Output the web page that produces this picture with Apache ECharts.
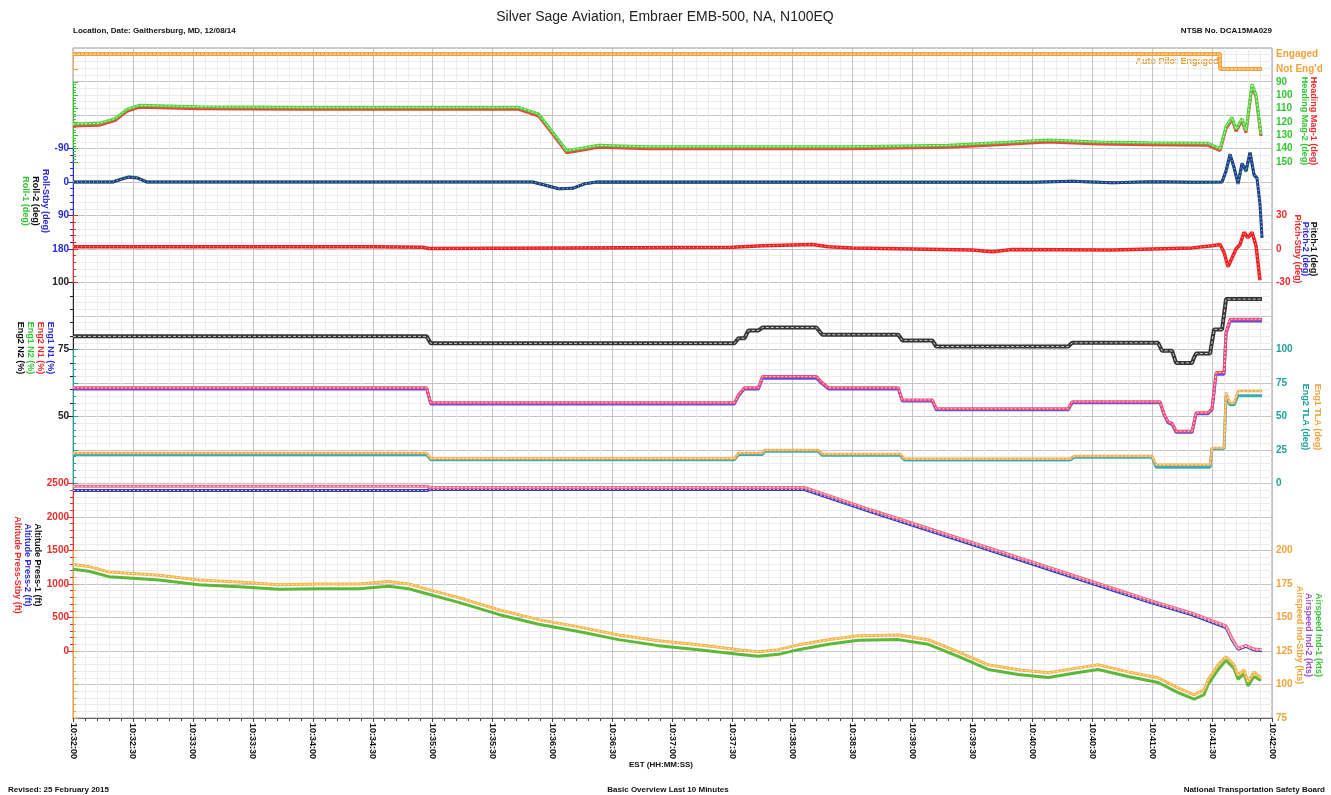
<!DOCTYPE html>
<html lang="en">
<head>
<meta charset="UTF-8">
<title>Silver Sage Aviation, Embraer EMB-500, N100EQ</title>
<style>
  html, body { margin: 0; padding: 0; background: #fff; }
  #chart { width: 1331px; height: 795px; }
</style>
</head>
<body>
<div id="chart"></div>
<script src="https://cdn.jsdelivr.net/npm/echarts@6/dist/echarts.min.js"></script>
<script>
// x values are seconds after 10:32:00
const timeLabels = ['10:32:00', '10:32:30', '10:33:00', '10:33:30', '10:34:00', '10:34:30', '10:35:00',
  '10:35:30', '10:36:00', '10:36:30', '10:37:00', '10:37:30', '10:38:00', '10:38:30', '10:39:00',
  '10:39:30', '10:40:00', '10:40:30', '10:41:00', '10:41:30', '10:42:00']

const autoPilot = [[0, 1], [574, 1], [574, 0], [595, 0]]

const headingMag1 = [[0, 123], [13, 122.5], [21, 119], [27, 112], [33, 109], [63, 110], [113, 110.5], [163, 110.5],
  [223, 110.5], [233, 115.5], [241, 131], [247, 143], [253, 141.5], [263, 139], [288, 140], [338, 140], [388, 140],
  [438, 139], [463, 137], [488, 135], [513, 136.5], [538, 137], [568, 137.5], [574, 141.5], [577, 125], [580, 118],
  [582, 127], [585, 119], [587, 128], [590, 93], [592, 101], [594.5, 130.5]]
const headingMag2 = [[0, 121.5], [13, 121], [21, 117.5], [27, 110.5], [33, 107.5], [63, 108.5], [113, 109], [163, 109],
  [223, 109], [233, 114], [241, 129.5], [247, 141.5], [253, 140], [263, 137.5], [288, 138.5], [338, 138.5], [388, 138.5],
  [438, 137.5], [463, 135.5], [488, 133.5], [513, 135], [538, 135.5], [568, 136], [574, 140], [577, 123.5], [580, 116.5],
  [582, 125.5], [585, 117.5], [587, 126.5], [590, 91.5], [592, 99.5], [594.5, 129]]

const roll1 = [[0, 0], [20, 0], [24, -8], [28, -14], [32, -12], [37, 0], [230, 0], [236, 8], [243, 18], [250, 17],
  [256, 5], [262, 0], [480, 1], [500, -2], [520, 2], [540, -1], [560, 1], [575, 0], [577, -28], [579, -72], [581, -38],
  [583, 4], [585, -48], [587, -28], [589, -78], [591, -18], [593, -8]]
const rollStby = [[0, 0], [20, 0], [24, -7], [28, -13], [32, -11], [37, 0], [230, 0], [236, 8], [243, 18], [250, 17],
  [256, 5], [262, 0], [480, 1], [500, -2], [520, 2], [540, -1], [560, 1], [575, 0], [577, -30], [579, -75], [581, -40],
  [583, 5], [585, -50], [587, -30], [589, -80], [591, -20], [592.5, -10], [594, 60], [595, 150]]

const pitchStby = [[0, 2], [150, 2], [175, 1.5], [178, 0.5], [250, 1], [330, 1.5], [345, 3], [370, 4], [378, 2],
  [390, 1], [420, 0], [450, -1], [460, -2.5], [470, -0.5], [520, -1], [540, 0], [560, 1], [570, 3], [574, 4],
  [576, -3], [578, -16], [580, -8], [582, 0], [584, 4], [586, 15], [588, 10], [590, 15], [592, 3], [594, -28]]

const eng2N2 = [[0, 79.9], [177, 79.9], [179, 77.3], [331, 77.3], [333, 79.2], [336, 79.2], [338, 82.1], [343, 82.1],
  [345, 83.2], [372, 83.2], [375, 80.5], [413, 80.5], [415, 78.4], [430, 78.4], [432, 76.1], [498, 76.1], [500, 77.5],
  [543, 77.5], [545, 74.5], [550, 74.5], [552, 70], [560, 70], [561, 72], [562, 73.5], [569, 73.5], [571, 82.5],
  [575, 82.5], [577, 93.8], [595, 93.8]]
const eng2N1 = [[0, 60.7], [177, 60.7], [179, 55.1], [331, 55.1], [333, 58], [336, 60.7], [343, 60.7], [345, 64.9],
  [372, 64.9], [375, 62.6], [378, 60.7], [413, 60.7], [415, 56.2], [430, 56.2], [432, 52.9], [498, 52.9], [500, 55.5],
  [544, 55.5], [546, 51], [548, 48], [550, 47.5], [552, 44.5], [560, 44.5], [562, 51.4], [568, 51.4], [570, 53],
  [572, 66.4], [576, 66.4], [577, 81.5], [579, 86.3], [595, 86.3]]
const eng1N1 = [[0, 60.3], [177, 60.3], [179, 54.7], [331, 54.7], [333, 57.6], [336, 60.3], [343, 60.3], [345, 64.3],
  [372, 64.3], [375, 62.2], [378, 60.3], [413, 60.3], [415, 55.8], [430, 55.8], [432, 52.5], [498, 52.5], [500, 55.1],
  [544, 55.1], [546, 50.6], [548, 47.6], [550, 47.1], [552, 44.1], [560, 44.1], [562, 51], [568, 51], [570, 52.6],
  [572, 65.8], [576, 65.8], [577, 81], [579, 85.6], [595, 85.6]]

const eng1TLA = [[0, 22.7], [177, 22.7], [179, 18.6], [331, 18.6], [333, 22.7], [345, 22.7], [346, 25], [373, 25],
  [375, 22], [414, 22], [416, 18.4], [499, 18.4], [501, 20.5], [540, 20.5], [542, 14], [569, 14], [570, 26.5],
  [576, 26.5], [577, 68], [579, 60], [581, 60], [583, 69], [595, 69]]
const eng2TLA = [[0, 21.4], [177, 21.4], [179, 17.8], [331, 17.8], [333, 21.6], [345, 21.6], [346, 24], [373, 24],
  [375, 21], [414, 21], [416, 17.6], [499, 17.6], [501, 19.6], [540, 19.6], [542, 12.2], [569, 12.2], [570, 26],
  [576, 26], [577, 65], [579, 58.7], [581, 58.7], [583, 65.5], [595, 65.5]]

const altPress2 = [[0, 2395], [177, 2395], [179, 2410], [366, 2410], [400, 2070], [450, 1590], [500, 1105],
  [539, 725], [560, 540], [577, 350], [580, 170], [583, 25], [587, 70], [591, 15], [595, 5]]
const altStby = [[0, 2458], [177, 2458], [179, 2442], [366, 2442], [400, 2100], [450, 1620], [500, 1135],
  [539, 755], [560, 565], [577, 375], [580, 190], [583, 40], [587, 85], [591, 30], [595, 20]]

const airspeedStby = [[0, 189.5], [8, 188], [18, 184], [28, 183], [43, 181.5], [63, 178], [83, 176.5], [103, 174.5],
  [123, 175], [143, 175], [158, 176.8], [168, 175], [178, 170.8], [193, 164.8], [213, 155.8], [233, 148.4], [253, 143],
  [273, 137], [293, 132.6], [313, 129.6], [333, 125.9], [343, 124.4], [353, 126], [363, 129.6], [378, 133.4],
  [393, 136.4], [413, 137], [428, 133.4], [443, 124.4], [458, 114.7], [473, 111], [488, 108.7], [503, 112.4],
  [513, 114.7], [528, 109.4], [543, 105], [553, 97.5], [561, 92.2], [566, 96], [568, 103.4], [573, 114.7],
  [577, 120.7], [581, 114.7], [583, 107], [586, 111], [588, 102], [591, 109.4], [594.5, 105]]
const airspeed1 = [[0, 186], [8, 184.5], [18, 180.5], [28, 179.5], [43, 178], [63, 174.5], [83, 173], [103, 171],
  [123, 171.5], [143, 171.5], [158, 173.3], [168, 171.5], [178, 167.3], [193, 161.3], [213, 152.3], [233, 145],
  [253, 139.5], [273, 133.5], [293, 129], [313, 126], [333, 122.5], [343, 121], [353, 122.5], [363, 126], [378, 130],
  [393, 133], [413, 133.5], [428, 130], [443, 121], [458, 111.2], [473, 107.5], [488, 105.2], [503, 109],
  [513, 111.2], [528, 106], [543, 101.5], [553, 94], [561, 89], [566, 92.5], [568, 100], [573, 111], [577, 118],
  [581, 112], [583, 104], [586, 108], [588, 99], [591, 106], [594.5, 103]]

const ORANGE = '#f2a23a', GREEN = '#33c633', BLUE = '#2a2ad8', RED = '#ee2b2b', TEAL = '#1f9e9e'
const FONT = '"Liberation Sans", Arial, sans-serif'
const LEFT = 73, RIGHT = 59

const panels = [
  { top: 54, height: 15, min: 0, max: 1, interval: 1, side: 'right', color: ORANGE, minor: false,
    fmt: v => v === 1 ? 'Engaged' : "Not Eng'd" },
  { top: 82, height: 80, min: 90, max: 150, interval: 10, side: 'right', color: GREEN, inverse: true },
  { top: 148.5, height: 100.5, min: -90, max: 180, interval: 90, side: 'left', color: BLUE, inverse: true },
  { top: 215.5, height: 67, min: -30, max: 30, interval: 30, side: 'right', color: RED },
  { top: 282.5, height: 134, min: 50, max: 100, interval: 25, side: 'left', color: '#222' },
  { top: 349.5, height: 134, min: 0, max: 100, interval: 25, side: 'right', color: TEAL },
  { top: 483.5, height: 167.5, min: 0, max: 2500, interval: 500, side: 'left', color: RED },
  { top: 550.5, height: 167.5, min: 75, max: 200, interval: 25, side: 'right', color: ORANGE }
]

const grids = [{ left: LEFT, right: RIGHT, top: 48, height: 670, show: true, borderColor: '#9a9a9a', borderWidth: 1 }]
const xAxes = [{
  gridIndex: 0, type: 'value', min: 0, max: 600, interval: 30,
  axisLine: { show: true, lineStyle: { color: '#666' } },
  axisTick: { show: true, length: 4, lineStyle: { color: '#444' } },
  minorTick: { show: true, splitNumber: 5, length: 3, lineStyle: { color: '#444' } },
  splitLine: { show: true, lineStyle: { color: '#c4c4c4' } },
  minorSplitLine: { show: true, lineStyle: { color: '#ececec' } },
  axisLabel: {
    rotate: -90, margin: 5, color: '#111', fontSize: 9, fontWeight: 'bold', fontFamily: FONT,
    formatter: v => timeLabels[Math.round(v / 30)]
  }
}]
const yAxes = [{
  gridIndex: 0, type: 'value', min: 0, max: 20, interval: 1,
  axisLine: { show: false }, axisTick: { show: false }, axisLabel: { show: false },
  splitLine: { show: true, lineStyle: { color: '#c4c4c4' } },
  minorSplitLine: { show: true, lineStyle: { color: '#ececec' } },
  minorTick: { splitNumber: 5 }
}]

panels.forEach((p, i) => {
  const g = i + 1
  grids.push({ left: LEFT, right: RIGHT, top: p.top, height: p.height })
  xAxes.push({ gridIndex: g, type: 'value', min: 0, max: 600, show: false })
  yAxes.push({
    gridIndex: g, type: 'value', min: p.min, max: p.max, interval: p.interval,
    inverse: !!p.inverse, position: p.side,
    axisLine: { show: true, lineStyle: { color: p.color, width: 1 } },
    axisTick: { show: true, length: 5, lineStyle: { color: p.color } },
    minorTick: { show: p.minor !== false, splitNumber: 5, length: 3, lineStyle: { color: p.color } },
    splitLine: { show: false },
    axisLabel: {
      color: p.color, fontSize: 10, fontWeight: 'bold', fontFamily: FONT, margin: 4,
      formatter: p.fmt || (v => String(v))
    }
  })
})

function line (name, data, panel, color, width = 3, z = 2) {
  return {
    name, type: 'line', data, xAxisIndex: panel + 1, yAxisIndex: panel + 1,
    symbol: 'none', clip: false, z, animation: false,
    lineStyle: { color, width }
  }
}
// thin white dashes laid over a line, to look like the recorder's dense sample markers
function marks (data, panel, z = 4, dash = [2, 2]) {
  return {
    type: 'line', data, xAxisIndex: panel + 1, yAxisIndex: panel + 1,
    symbol: 'none', clip: false, z, animation: false, silent: true,
    lineStyle: { color: 'rgba(255,255,255,0.75)', width: 1, type: dash }
  }
}

const series = [
  line('Auto Pilot', autoPilot, 0, ORANGE, 4),
  marks(autoPilot, 0, 4, [3, 1]),
  line('Heading Mag-1', headingMag1, 1, '#e8483a', 3),
  line('Heading Mag-2', headingMag2, 1, '#4fd23a', 3, 3),
  marks(headingMag2, 1),
  line('Roll-1', roll1, 2, '#3fc63f', 3),
  line('Roll-Stby', rollStby, 2, '#1e3f8c', 3, 3),
  marks(rollStby, 2, 4, [1, 3]),
  line('Pitch-Stby', pitchStby, 3, '#ee2222', 3.5),
  marks(pitchStby, 3, 4, [1, 3]),
  line('Eng2 N2', eng2N2, 4, '#333333', 4),
  marks(eng2N2, 4, 4, [3, 2]),
  line('Eng1 N1', eng1N1, 4, '#5a4ae8', 3),
  line('Eng2 N1', eng2N1, 4, '#ec4a78', 3, 3),
  marks(eng2N1, 4, 4, [2, 2]),
  line('Eng2 TLA', eng2TLA, 5, '#3aaeae', 3),
  line('Eng1 TLA', eng1TLA, 5, '#f4a84a', 2.5, 3),
  marks(eng1TLA, 5, 4, [2, 2]),
  line('Altitude Press-2', altPress2, 6, '#3838b8', 3),
  marks(altPress2, 6, 4, [2, 2]),
  line('Altitude Press-Stby', altStby, 6, '#f06a8a', 3, 3),
  marks(altStby, 6, 4, [2, 2]),
  line('Airspeed Ind-1', airspeed1, 7, '#5cb83a', 3),
  line('Airspeed Ind-Stby', airspeedStby, 7, '#f5b44a', 3, 3),
  marks(airspeedStby, 7, 4, [2, 2])
]

function vtext (x, y, text, fill) {
  return {
    type: 'text', x, y, rotation: -Math.PI / 2,
    style: { text, fill, font: 'bold 9px ' + FONT, align: 'center', verticalAlign: 'middle' }
  }
}
function htext (x, y, text, opts = {}) {
  return {
    type: 'text', x, y,
    style: Object.assign({ text, fill: '#111', font: 'bold 8px ' + FONT, align: 'left', verticalAlign: 'middle' }, opts)
  }
}

const graphic = [
  htext(665, 17, 'Silver Sage Aviation, Embraer EMB-500, NA, N100EQ', { font: '14px ' + FONT, align: 'center', fill: '#222' }),
  htext(73, 31, 'Location, Date: Gaithersburg, MD, 12/08/14'),
  htext(1272, 31, 'NTSB No. DCA15MA029', { align: 'right' }),
  htext(1177, 62, 'Auto Pilot Engaged', { fill: '#ee9a2a', align: 'center', font: 'bold 9px ' + FONT }),
  htext(661, 765, 'EST (HH:MM:SS)', { align: 'center' }),
  htext(8, 790, 'Revised: 25 February 2015'),
  htext(668, 790, 'Basic Overview Last 10 Minutes', { align: 'center' }),
  htext(1325, 790, 'National Transportation Safety Board', { align: 'right' }),
  // left axis names
  vtext(45, 201, 'Roll-Stby (deg)', BLUE),
  vtext(35, 201, 'Roll-2 (deg)', '#111'),
  vtext(25, 201, 'Roll-1 (deg)', GREEN),
  vtext(50, 348, 'Eng1 N1 (%)', BLUE),
  vtext(40, 348, 'Eng2 N1 (%)', RED),
  vtext(30, 348, 'Eng1 N2 (%)', GREEN),
  vtext(20, 348, 'Eng2 N2 (%)', '#111'),
  vtext(37, 565, 'Altitude Press-1 (ft)', '#111'),
  vtext(27, 565, 'Altitude Press-2 (ft)', BLUE),
  vtext(17, 565, 'Altitude Press-Stby (ft)', RED),
  // right axis names
  vtext(1313, 121, 'Heading Mag-1 (deg)', RED),
  vtext(1304, 121, 'Heading Mag-2 (deg)', GREEN),
  vtext(1313, 249, 'Pitch-1 (deg)', '#111'),
  vtext(1305, 249, 'Pitch-2 (deg)', BLUE),
  vtext(1297, 249, 'Pitch-Stby (deg)', RED),
  vtext(1317, 417, 'Eng1 TLA (deg)', ORANGE),
  vtext(1305, 417, 'Eng2 TLA (deg)', TEAL),
  vtext(1318, 635, 'Airspeed Ind-1 (kts)', GREEN),
  vtext(1308, 635, 'Airspeed Ind-2 (kts)', '#9a50c8'),
  vtext(1299, 635, 'Airspeed Ind-Stby (kts)', ORANGE)
]

const chart = echarts.init(document.getElementById('chart'))
chart.setOption({
  animation: false,
  backgroundColor: '#fff',
  grid: grids,
  xAxis: xAxes,
  yAxis: yAxes,
  series,
  graphic
})
</script>
</body>
</html>
